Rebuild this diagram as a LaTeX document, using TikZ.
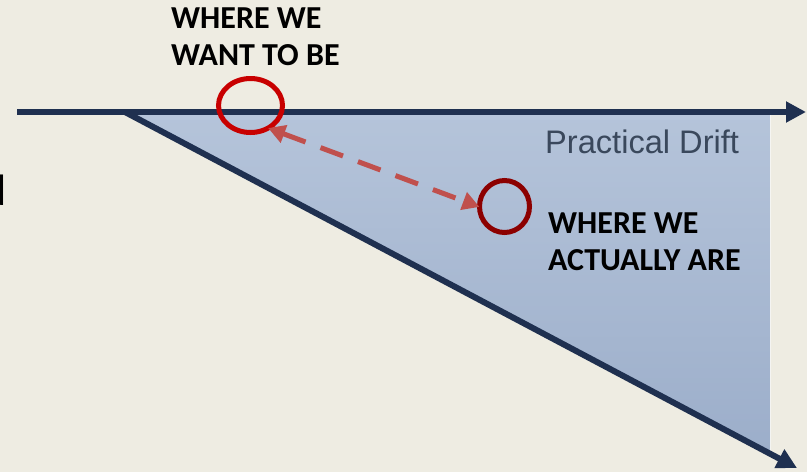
\documentclass[tikz,border=0pt]{standalone}
\usepackage{fontspec}
\setmainfont{Carlito}
\newfontfamily\arialfont{Liberation Sans}
\usetikzlibrary{arrows.meta,shapes.geometric}
\definecolor{bgcream}{RGB}{238,236,226}
\definecolor{navyline}{RGB}{31,48,80}
\definecolor{filltop}{RGB}{181,196,218}
\definecolor{fillbot}{RGB}{156,174,202}
\definecolor{wantred}{RGB}{200,0,0}
\definecolor{actualred}{RGB}{140,0,0}
\definecolor{dashred}{RGB}{192,80,77}
\definecolor{drifttext}{RGB}{58,72,92}
\tikzset{
  axisline/.style={draw=navyline,line width=6pt,-{Triangle[length=20pt,width=20pt]}},
  ringwant/.style={ellipse,draw=wantred,line width=5pt,minimum width=64pt,minimum height=54pt,inner sep=0pt,outer sep=0pt},
  ringactual/.style={ellipse,draw=actualred,line width=5pt,minimum width=50pt,minimum height=52pt,inner sep=0pt,outer sep=0pt},
  gaparrow/.style={draw=dashred,line width=5pt,dash pattern=on 24pt off 16pt,{Triangle[length=17pt,width=18pt]}-{Triangle[length=17pt,width=18pt]}},
  labeltext/.style={font=\bfseries\fontsize{32}{37}\selectfont,text=black,align=left,inner sep=0pt,anchor=north west},
}
\begin{document}
\begin{tikzpicture}[x=1pt,y=-1pt]
\fill[bgcream] (0,0) rectangle (807,472);
\useasboundingbox (0,0) rectangle (807,472);
% coordinates
\coordinate (start) at (17,112);
\coordinate (corner) at (125,112);
\coordinate (topend) at (806,112);
\coordinate (diagend) at (797,468);
\coordinate (ftr) at (770,112);
\coordinate (fbr) at (770,452.3);
% triangle fill
\shade[top color=filltop,bottom color=fillbot] (corner) -- (ftr) -- (fbr) -- cycle;
\draw[white,line width=1pt,opacity=0.6] (ftr) -- (fbr);
% axes
\draw[axisline] (start) -- (topend);
\draw[axisline] (corner) -- (diagend);
% circles
\node[ringwant] (want) at (250.5,105.5) {};
\node[ringactual] (actual) at (504.5,206.5) {};
\draw[gaparrow] (want.-52) -- (actual.181);
% texts
\node[labeltext] (wanttxt) at (171,8) {WHERE WE\\WANT TO BE};
\node[labeltext] (actualtxt) at (548,213) {WHERE WE\\ACTUALLY ARE};
\node[anchor=base west,inner sep=0pt,text=drifttext,font=\arialfont\fontsize{32.6}{38}\selectfont] (drift) at (545,153) {Practical Drift};
\node[anchor=base east,inner sep=0pt,font=\fontsize{44}{50}\selectfont] (frag) at (6.5,205) {d};
\end{tikzpicture}
\end{document}
